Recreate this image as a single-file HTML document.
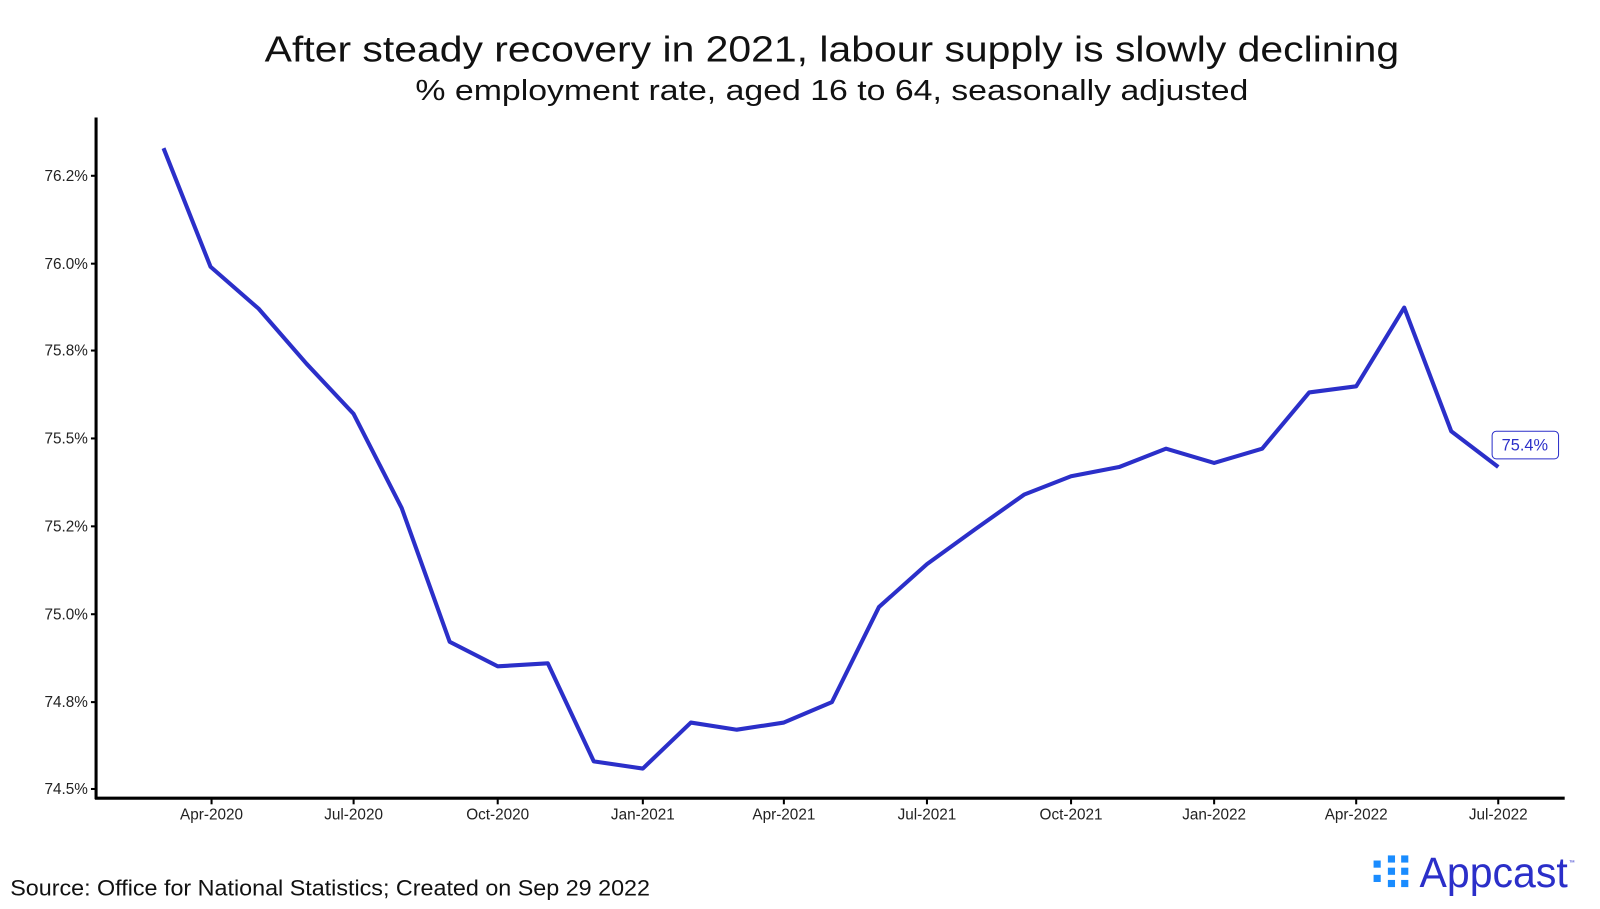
<!DOCTYPE html>
<html><head><meta charset="utf-8"><style>
body{margin:0;background:#fff;}
svg{display:block;font-family:"Liberation Sans",sans-serif;}
</style></head><body>
<svg width="1600" height="909" viewBox="0 0 1600 909" xmlns="http://www.w3.org/2000/svg">
<rect width="1600" height="909" fill="#fff"/>
<g transform="scale(1.022)">
<text x="814" y="60" font-size="35" text-anchor="middle" fill="#111" textLength="1110" lengthAdjust="spacingAndGlyphs">After steady recovery in 2021, labour supply is slowly declining</text>
<text x="814" y="98" font-size="28" text-anchor="middle" fill="#111" textLength="815" lengthAdjust="spacingAndGlyphs">% employment rate, aged 16 to 64, seasonally adjusted</text>
<g stroke="#000" stroke-width="3" fill="none">
<line x1="94" y1="115" x2="94" y2="782"/>
<line x1="93" y1="781" x2="1531" y2="781"/>
</g>
<g stroke="#000" stroke-width="2">
<line x1="89" y1="172" x2="94" y2="172"/><line x1="89" y1="258" x2="94" y2="258"/><line x1="89" y1="343" x2="94" y2="343"/><line x1="89" y1="429" x2="94" y2="429"/><line x1="89" y1="515" x2="94" y2="515"/><line x1="89" y1="601" x2="94" y2="601"/><line x1="89" y1="687" x2="94" y2="687"/><line x1="89" y1="772" x2="94" y2="772"/>
<line x1="207" y1="781" x2="207" y2="787"/><line x1="346" y1="781" x2="346" y2="787"/><line x1="487" y1="781" x2="487" y2="787"/><line x1="629" y1="781" x2="629" y2="787"/><line x1="767" y1="781" x2="767" y2="787"/><line x1="907" y1="781" x2="907" y2="787"/><line x1="1048" y1="781" x2="1048" y2="787"/><line x1="1188" y1="781" x2="1188" y2="787"/><line x1="1327" y1="781" x2="1327" y2="787"/><line x1="1466" y1="781" x2="1466" y2="787"/>
</g>
<g font-size="15" fill="#222" text-anchor="end">
<text x="86" y="177">76.2%</text><text x="86" y="263">76.0%</text><text x="86" y="348">75.8%</text><text x="86" y="434">75.5%</text><text x="86" y="520">75.2%</text><text x="86" y="606">75.0%</text><text x="86" y="692">74.8%</text><text x="86" y="777">74.5%</text>
</g>
<g font-size="15" fill="#222" text-anchor="middle">
<text x="207" y="802">Apr-2020</text><text x="346" y="802">Jul-2020</text><text x="487" y="802">Oct-2020</text><text x="629" y="802">Jan-2021</text><text x="767" y="802">Apr-2021</text><text x="907" y="802">Jul-2021</text><text x="1048" y="802">Oct-2021</text><text x="1188" y="802">Jan-2022</text><text x="1327" y="802">Apr-2022</text><text x="1466" y="802">Jul-2022</text>
</g>
<polyline fill="none" stroke="#2b2fc9" stroke-width="4" stroke-linejoin="round" points="160,145 206,261 253,302 300,356 346,405 393,497 440,628 487,652 536,649 581,745 629,752 676,707 721,714 767,707 814,687 860,594 907,552 954,518 1002,484 1048,466 1095,457 1141,439 1188,453 1235,439 1281,384 1327,378 1374,301 1420,422 1466,457"/>
<rect x="1460" y="422" width="65" height="27" rx="4" fill="#fff" stroke="#2b2fc9" stroke-width="1"/>
<text x="1492" y="441" font-size="16" fill="#2b2fc9" text-anchor="middle">75.4%</text>
<text x="10" y="876" font-size="22" fill="#111" textLength="626" lengthAdjust="spacingAndGlyphs">Source: Office for National Statistics; Created on Sep 29 2022</text>
<g fill="#1a8cff">
<rect x="1344" y="842" width="7" height="7"/><rect x="1344" y="856" width="7" height="7"/>
<rect x="1358" y="837" width="7" height="7"/><rect x="1358" y="849" width="7" height="7"/><rect x="1358" y="861" width="7" height="7"/>
<rect x="1371" y="837" width="7" height="7"/><rect x="1371" y="849" width="7" height="7"/><rect x="1371" y="861" width="7" height="7"/>
</g>
<text x="1389" y="868" font-size="42" fill="#2b2fc9" textLength="145" lengthAdjust="spacingAndGlyphs">Appcast</text>
<text x="1535" y="846" font-size="6" fill="#2b2fc9">™</text>
</g>
</svg>
</body></html>
